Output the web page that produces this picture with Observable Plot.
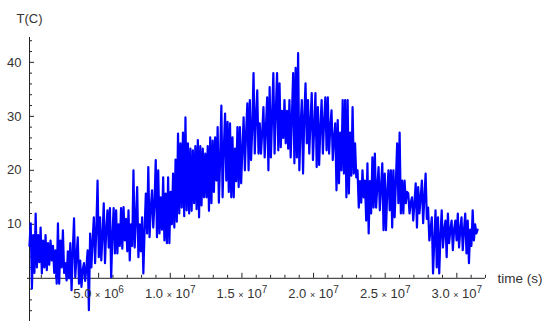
<!DOCTYPE html>
<html><head><meta charset="utf-8">
<script src="https://cdn.jsdelivr.net/npm/d3@7"></script>
<script src="https://cdn.jsdelivr.net/npm/@observablehq/plot@0.6"></script>
<style>body{margin:0;background:#fff} #chart svg{display:block}</style>
</head><body><div id="chart"></div>
<script>
// Daily temperature readings (°C), one per day starting at day 2 of the year
const firstDay = 2;
const tempC = [
6,10.2,-1.9,8,1,12,2,8,3,9.4,0.9,7,2,8,1.5,6.5,2.5,7,3.3,6,1,5.2,-1,10.2,-1,7,2,8.9,1,2.8,-0.4,5,0,6.5,-2.2,5,11.1,0.2,4,7.6,-1,3.3,-1.6,1.5,2.8,-0.5,2,5.2,-5.9,8.3,2,7,11.3,2.8,9,18.1,3.9,11.3,3.3,8,13.9,2.8,9,12.6,5.7,13,0.2,8,13,4.6,12.6,4.6,10,6,13,5.5,13.2,7,11,5,12.6,3.3,10,6,20,5.7,11,16.9,3.9,10,5,11.3,0.9,9,15.7,8.3,20.6,7.6,13,16.3,9.4,14,21.9,7.6,20,8.3,15,9,18.7,7,15.7,6.5,18.7,6.5,16,10,19.4,9.4,22,10.5,26.8,12,25,13.1,27,11.5,29.8,12.6,25,12,24,12.5,23.7,13.9,24.5,12.8,25.6,11.3,24.5,13.5,24,15,23.1,15,24.5,12.5,26.1,13.9,25.5,16,26.1,18.1,28,14,22,32,15,24,30.5,18.1,29,16,28.7,15,26.1,15,24,18,28,16.9,28,17.6,24,29.8,20,27,32.4,20,33,21.9,28,38,23.1,30,34.8,23.1,28.7,23.1,27,31.7,22.4,28,33.5,20,35.4,22.4,30,38,23.1,31,38,23.7,36.1,24.3,31,26,33,25,31,24,33,22.4,30,38,21.3,39,22.4,41.7,20,28,33,19.4,30,36.1,25,33,23.1,29,34.3,21.9,28,34.3,20.6,31.7,21,28,33,23.1,29,33.5,23.7,33.5,23.1,28,31.1,21.9,26,28.7,16.3,29.3,17.6,27,20,33,19.4,33,15,33,15.7,27,19,31.7,19.4,25,18.7,20,13.1,18,14,20,15,18.1,10.7,21.3,8.3,18,12,22.4,13.1,23.1,13.1,17,20.6,12.6,17,21.3,8.9,19.4,8.9,16,20,12.6,20,9.4,20,11.3,18,25,13.9,27,12,18.1,12,18.1,13.9,16,15.7,12,14,15,10.7,14,17.6,9.4,16.9,12,15,18.1,10.2,15,19.4,11,13.1,7,9,11.3,0.9,7,12.6,2,11.3,0.9,8,12.6,5.7,9,10.7,3.9,12,6.5,9,10.7,5.2,9,10.7,7,12,5.7,9,11.3,5.2,9,12,4.6,10.7,2.8,9,6,12.6,7,10,8.3,9
];

const xLabelValues = [5e6, 1e7, 1.5e7, 2e7, 2.5e7, 3e7];
const xLabelMantissa = ["5.0", "1.0", "1.5", "2.0", "2.5", "3.0"];
const xLabelExponent = ["6", "7", "7", "7", "7", "7"];
const yLabelValues = [10, 20, 30, 40];
const xAxisTitle = "time (s)";
const yAxisTitle = "T(C)";

const SECONDS_PER_DAY = 86400;
const series = tempC.map((T, i) => ({t: (firstDay + i) * SECONDS_PER_DAY, T}));

const W = 548, H = 321;
const xDomain = [1.75e5, 3.2e7], yDomain = [-8, 44.6];
const xRange = [29, 485], yRange = [321, 37];
const dpx = (xDomain[1] - xDomain[0]) / (xRange[1] - xRange[0]);
const dpy = (yDomain[1] - yDomain[0]) / (yRange[0] - yRange[1]);

const xTicks = d3.range(1e6, 3.2e7 + 1, 1e6);
const yTicks = d3.range(-8, 45, 2).filter(v => v !== 0);
const axisColor = "#222";
const labelColor = "#333";

const xLabels = xLabelValues.map((v, i) => ({x: v, label: xLabelMantissa[i] + "|" + xLabelExponent[i]}));

const chart = Plot.plot({
  width: W, height: H,
  marginLeft: 0, marginRight: 0, marginTop: 0, marginBottom: 0,
  style: {fontFamily: "'Liberation Sans', Arial, sans-serif", fontSize: "13px", background: "#fff", overflow: "visible"},
  x: {type: "linear", domain: xDomain, range: xRange, axis: null},
  y: {type: "linear", domain: yDomain, range: yRange, axis: null},
  marks: [
    Plot.ruleY([0], {x1: xDomain[0] - 2 * dpx, x2: xDomain[1], stroke: axisColor, strokeWidth: 1}),
    Plot.ruleX([xDomain[0]], {y1: yDomain[0], y2: yDomain[1], stroke: axisColor, strokeWidth: 1}),
    Plot.ruleX(xTicks, {x: d => d, y1: 0, y2: d => (d % 5e6 === 0 ? 5 : 3) * dpy, stroke: axisColor, strokeWidth: 1}),
    Plot.ruleY(yTicks, {y: d => d, x1: xDomain[0], x2: d => xDomain[0] + (d % 10 === 0 ? 5 : 3) * dpx, stroke: axisColor, strokeWidth: 1}),
    Plot.line(series, {x: "t", y: "T", stroke: "#0000ff", strokeWidth: 2.2}),
    Plot.text(xLabels, {x: "x", y: 0, dy: 16, text: "label", fill: labelColor, textAnchor: "middle"}),
    Plot.text(yLabelValues, {x: xDomain[0], y: d => d, dx: -8, text: d => String(d), fill: labelColor, textAnchor: "end"}),
    Plot.text([yAxisTitle], {x: xDomain[0], y: yDomain[1], dy: -19, text: d => d, fill: labelColor, textAnchor: "middle"}),
    Plot.text([xAxisTitle], {x: xDomain[1], y: 0, dx: 12, text: d => d, fill: labelColor, textAnchor: "start", fontSize: 13.5})
  ]
});

d3.select(chart).selectAll("text").filter(function() { return this.textContent.includes("|"); }).each(function() {
  const [m, e] = this.textContent.split("|");
  const t = d3.select(this);
  t.text(null);
  t.append("tspan").text(m + " ");
  t.append("tspan").attr("font-size", "9px").text("×");
  t.append("tspan").text(" 10");
  t.append("tspan").attr("font-size", "10px").attr("dy", "-0.55em").text(e);
});

document.getElementById("chart").appendChild(chart);
</script>
</body></html>
